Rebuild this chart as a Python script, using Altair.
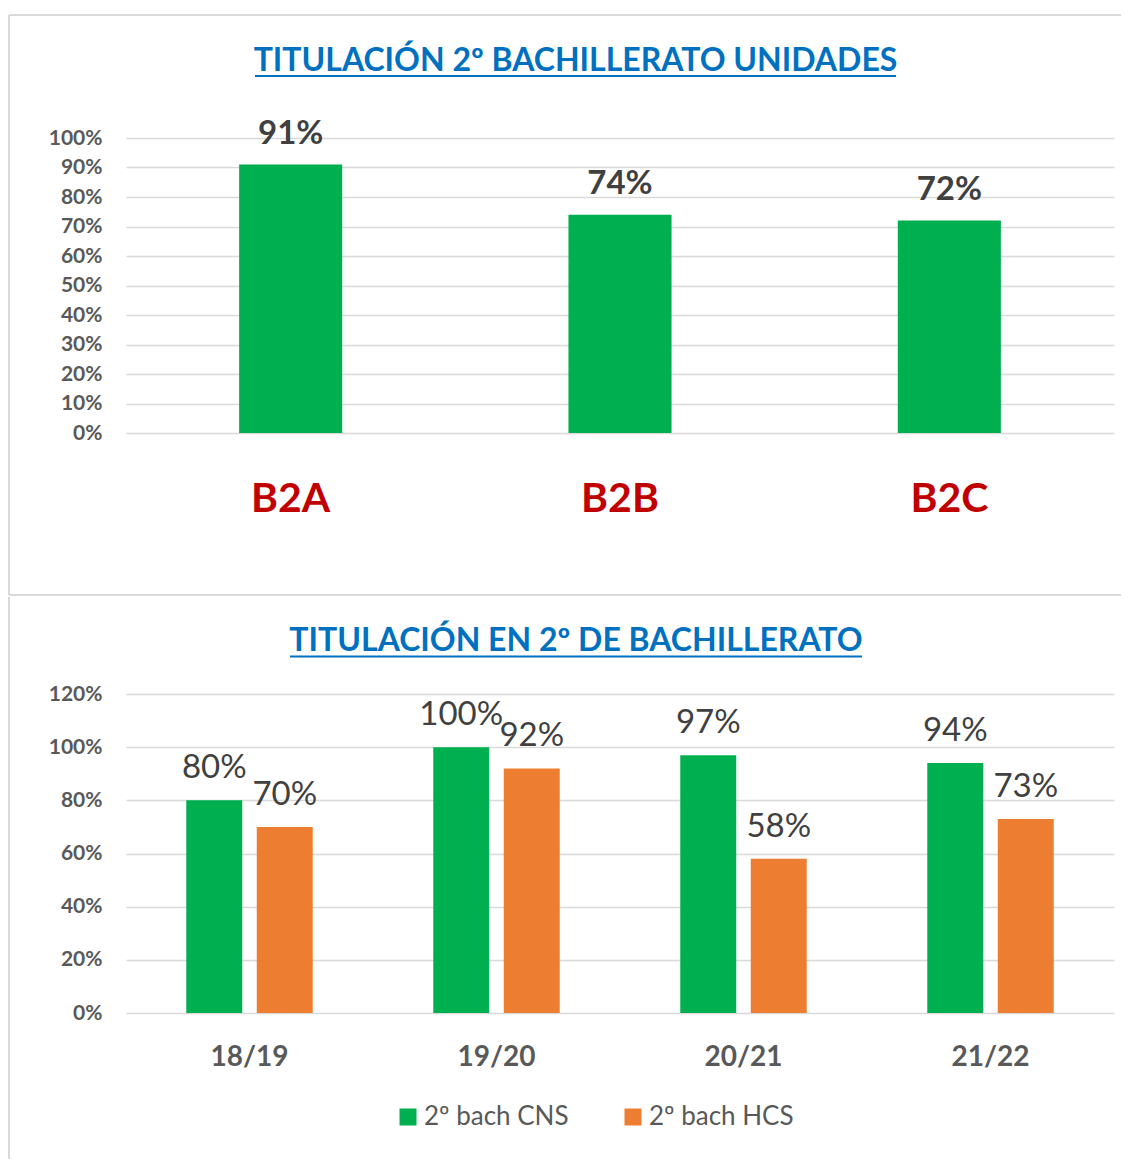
import altair as alt
import pandas as pd

# ---------------- data ----------------
units = ["B2A", "B2B", "B2C"]
unit_rates = [0.91, 0.74, 0.72]

years = ["18/19", "19/20", "20/21", "21/22"]
series = ["2º bach CNS", "2º bach HCS"]
cns_rates = [0.80, 1.00, 0.97, 0.94]
hcs_rates = [0.70, 0.92, 0.58, 0.73]

title1 = "TITULACIÓN 2º BACHILLERATO UNIDADES"
title2 = "TITULACIÓN EN 2º DE BACHILLERATO"

y1_ticks = [0.0, 0.1, 0.2, 0.3, 0.4, 0.5, 0.6, 0.7, 0.8, 0.9, 1.0]
y2_ticks = [0.0, 0.2, 0.4, 0.6, 0.8, 1.0, 1.2]

# ---------------- style ----------------
FONT = "Lato"
GREEN = "#00B050"
ORANGE = "#ED7D31"
RED = "#C00000"
BLUE = "#0070C0"
LABEL = "#404040"
AXIS = "#595959"
GRID = "#D9D9D9"

W = 988
H1 = 295
H2 = 319

df1 = pd.DataFrame({"unit": units, "rate": unit_rates})
df2 = pd.DataFrame({
    "year": years * 2,
    "series": [series[0]] * len(years) + [series[1]] * len(years),
    "rate": cns_rates + hcs_rates,
})
one = alt.Data(values=[{"k": 0}])


def yaxis(vals):
    return alt.Axis(title=None, format=".0%", values=vals, labelFont=FONT,
                    labelFontSize=21, labelFontWeight="bold", labelColor=AXIS,
                    labelPadding=24, ticks=False, domain=False, grid=True,
                    gridColor=GRID, gridWidth=1.5, labelOverlap=False)


# ---------------- panel 1 ----------------
x1 = alt.X("unit:N", sort=units,
           scale=alt.Scale(paddingInner=0.687, paddingOuter=0.3435),
           axis=alt.Axis(title=None, labelAngle=0, labelFont=FONT, labelFontSize=41,
                         labelFontWeight="bold", labelColor=RED, labelPadding=46,
                         ticks=False, domain=False, grid=False))
y1 = alt.Y("rate:Q", scale=alt.Scale(domain=[0, 1]), axis=yaxis(y1_ticks))

bars1 = alt.Chart(df1).mark_bar(color=GREEN).encode(x=x1, y=y1)
text1 = alt.Chart(df1).mark_text(font=FONT, fontSize=33, fontWeight="bold", color=LABEL,
                                 baseline="alphabetic", dy=-21).encode(
    x=x1, y=y1, text=alt.Text("rate:Q", format=".0%"))

t1 = alt.Chart(one).mark_text(font=FONT, fontSize=32, fontWeight="bold", color=BLUE,
                              align="center", baseline="alphabetic", text=title1).encode(
    x=alt.value(449.5), y=alt.value(-67))
u1 = alt.Chart(one).mark_rule(color=BLUE, strokeWidth=2).encode(
    x=alt.value(129), x2=alt.value(770), y=alt.value(-62))

f1a = alt.Chart(one).mark_rule(color=GRID, strokeWidth=2).encode(
    x=alt.value(-117), x2=alt.value(995), y=alt.value(-123))
f1b = alt.Chart(one).mark_rule(color=GRID, strokeWidth=2).encode(
    x=alt.value(-117), y=alt.value(-123), y2=alt.value(457))
f1c = alt.Chart(one).mark_rule(color=GRID, strokeWidth=2).encode(
    x=alt.value(-117), x2=alt.value(995), y=alt.value(457))

panel1 = alt.layer(f1a, f1b, f1c, bars1, text1, t1, u1).properties(width=W, height=H1)

# ---------------- panel 2 ----------------
x2 = alt.X("year:N", sort=years,
           scale=alt.Scale(paddingInner=0.488, paddingOuter=0.244),
           axis=alt.Axis(title=None, labelAngle=0, labelFont=FONT, labelFontSize=28,
                         labelFontWeight="bold", labelColor=AXIS, labelPadding=30,
                         ticks=False, domain=False, grid=False))
xo2 = alt.XOffset("series:N", sort=series, scale=alt.Scale(paddingInner=0.206, paddingOuter=0))
y2 = alt.Y("rate:Q", scale=alt.Scale(domain=[0, 1.2]), axis=yaxis(y2_ticks))
col2 = alt.Color("series:N", sort=series,
                 scale=alt.Scale(domain=series, range=[GREEN, ORANGE]),
                 legend=alt.Legend(title=None, orient="none", legendX=269, legendY=966,
                                   direction="horizontal", symbolType="square",
                                   symbolSize=289, symbolStrokeWidth=0, labelFont=FONT,
                                   labelFontSize=26, labelColor=AXIS, labelOffset=3,
                                   columnPadding=51))

bars2 = alt.Chart(df2).mark_bar().encode(x=x2, xOffset=xo2, y=y2, color=col2)
text2 = alt.Chart(df2).mark_text(font=FONT, fontSize=33, color=LABEL,
                                 baseline="alphabetic", dy=-22).encode(
    x=x2, xOffset=xo2, y=y2, text=alt.Text("rate:Q", format=".0%"))

t2 = alt.Chart(one).mark_text(font=FONT, fontSize=32, fontWeight="bold", color=BLUE,
                              align="center", baseline="alphabetic", text=title2).encode(
    x=alt.value(450), y=alt.value(-43))
u2 = alt.Chart(one).mark_rule(color=BLUE, strokeWidth=2).encode(
    x=alt.value(164), x2=alt.value(736), y=alt.value(-37.5))

f2 = alt.Chart(one).mark_rule(color=GRID, strokeWidth=2).encode(
    x=alt.value(-117), y=alt.value(-97), y2=alt.value(465))

panel2 = alt.layer(f2, bars2, text2, t2, u2).properties(width=W, height=H2)

chart = alt.vconcat(panel1, panel2, spacing=0).properties(
    padding={"left": 0, "top": 6, "right": 0, "bottom": 0}
).configure_view(stroke=None)

chart.save("out.html", embed_options={"renderer": "svg", "actions": False})
